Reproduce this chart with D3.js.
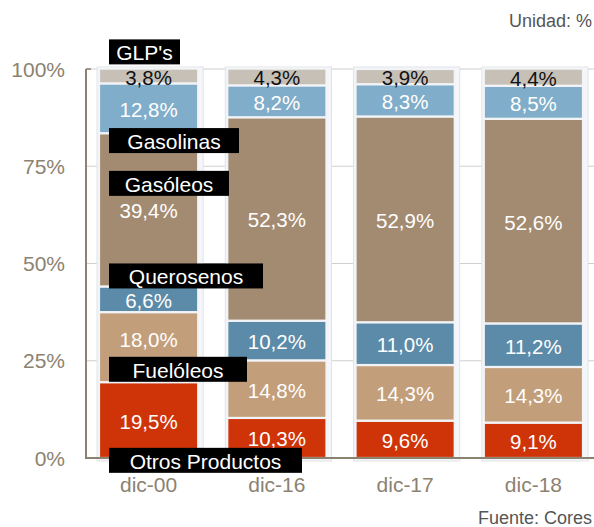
<!DOCTYPE html>
<html>
<head>
<meta charset="utf-8">
<script src="https://cdn.jsdelivr.net/npm/d3@7"></script>
<style>
  html,body{margin:0;padding:0;background:#fff;}
  svg{display:block;font-family:"Liberation Sans",Arial,sans-serif;}
</style>
</head>
<body>
<svg width="594" height="527"></svg>
<script>
// ---- data ----
const categories = ["dic-00","dic-16","dic-17","dic-18"];
const series = ["Otros Productos","Fuelóleos","Querosenos","Gasóleos","Gasolinas","GLP's"];
const otros      = [19.5, 10.3, 9.6, 9.1];
const fuel       = [18.0, 14.8, 14.3, 14.3];
const queros     = [6.6, 10.2, 11.0, 11.2];
const gasoleos   = [39.4, 52.3, 52.9, 52.6];
const gasolinas  = [12.8, 8.2, 8.3, 8.5];
const glp        = [3.8, 4.3, 3.9, 4.4];
const yTicks = [0, 25, 50, 75, 100];

// ---- style ----
const colors = ["#cf3308","#c29e7a","#5b8ba8","#a38b72","#80adc9","#c6c0b7"];
const labelInk = ["#fff","#fff","#fff","#fff","#fff","#111"];
const AX = "#8c8270";

// legend tags, placed at a percent level of the first bar
const tagLevel = [-0.6, 22.8, 46.8, 70.6, 81.6, 104.4];
const tagWidth = [193, 138, 154, 120, 130, 71];

const values = [otros, fuel, queros, gasoleos, gasolinas, glp];
const rows = categories.map((c,i)=>{
  const r = {cat:c};
  series.forEach((s,k)=> r[s] = values[k][i]);
  return r;
});
const stacked = d3.stack().keys(series)(rows);

const svg = d3.select("svg");
const M = {left:86, right:594, top:69, bottom:458};

const x = d3.scaleBand().domain(categories).range([99, 583]).paddingInner(0.2266).paddingOuter(0);
const y = d3.scaleLinear().domain([0,100]).range([M.bottom, M.top]);

// gridlines
svg.append("g").selectAll("line").data(yTicks.filter(t=>t>0)).join("line")
  .attr("x1",M.left).attr("x2",M.right).attr("y1",d=>y(d)).attr("y2",d=>y(d))
  .attr("stroke","#cfcfcf").attr("stroke-width",1.2);

// bar slots (soft shadowed columns)
svg.append("g").selectAll("rect").data(categories).join("rect")
  .attr("x",d=>x(d)-2).attr("y",y(100)-2).attr("width",x.bandwidth()+7).attr("height",y(0)-y(100)+5)
  .attr("fill","#f5f6f9").attr("stroke","#e2e3e7").attr("stroke-width",1);

// segments
const layer = svg.append("g").selectAll("g").data(stacked).join("g")
  .attr("fill",(d,i)=>colors[i]);
layer.selectAll("rect").data(d=>d).join("rect")
  .attr("x",d=>x(d.data.cat)).attr("width",x.bandwidth())
  .attr("y",d=>y(d[1])).attr("height",d=>y(d[0])-y(d[1]))
  .attr("stroke","#f2f4f7").attr("stroke-width",2.2);

// value labels (the Fuelóleos label of the first bar sits a bit higher, clear of its tag)
stacked.forEach((s,i)=>{
  svg.append("g").selectAll("text").data(s).join("text")
    .attr("x",d=>x(d.data.cat)+x.bandwidth()/2)
    .attr("y",(d,j)=>(y(d[0])+y(d[1]))/2+1-(i===1&&j===0?9:0))
    .attr("text-anchor","middle").attr("dominant-baseline","central")
    .attr("font-size",20.5).attr("fill",labelInk[i])
    .text(d=>d3.format(".1f")(d[1]-d[0]).replace(".",",")+"%");
});

// axes lines
svg.append("line").attr("x1",M.left).attr("x2",M.left).attr("y1",y(100)).attr("y2",y(0))
  .attr("stroke",AX).attr("stroke-width",2);
svg.append("line").attr("x1",M.left).attr("x2",M.left+5).attr("y1",y(100)).attr("y2",y(100))
  .attr("stroke",AX).attr("stroke-width",1.5);
svg.append("line").attr("x1",M.left-1).attr("x2",M.right).attr("y1",y(0)).attr("y2",y(0))
  .attr("stroke",AX).attr("stroke-width",2);

// y tick labels
svg.append("g").selectAll("text").data(yTicks).join("text")
  .attr("x",65).attr("y",d=>y(d)).attr("text-anchor","end").attr("dominant-baseline","central")
  .attr("font-size",21).attr("fill",AX).text(d=>d+"%");

// x labels
svg.append("g").selectAll("text").data(categories).join("text")
  .attr("x",d=>x(d)+x.bandwidth()/2).attr("y",492).attr("text-anchor","middle")
  .attr("font-size",21).attr("fill",AX).text(d=>d);

// legend tags on first bar
const tags = svg.append("g").selectAll("g").data(series).join("g")
  .attr("transform",(d,i)=>`translate(109,${y(tagLevel[i])})`);
tags.append("rect").attr("x",0).attr("y",-12.5).attr("width",(d,i)=>tagWidth[i]).attr("height",25)
  .attr("fill","#000");
tags.append("text").attr("x",(d,i)=>tagWidth[i]/2).attr("y",1).attr("text-anchor","middle")
  .attr("dominant-baseline","central").attr("font-size",21).attr("fill","#fff").text(d=>d);

// notes
svg.append("text").attr("x",592).attr("y",27).attr("text-anchor","end")
  .attr("font-size",18).attr("fill","#555").text("Unidad: %");
svg.append("text").attr("x",592).attr("y",524).attr("text-anchor","end")
  .attr("font-size",18).attr("fill","#555").text("Fuente: Cores");
</script>
</body>
</html>
